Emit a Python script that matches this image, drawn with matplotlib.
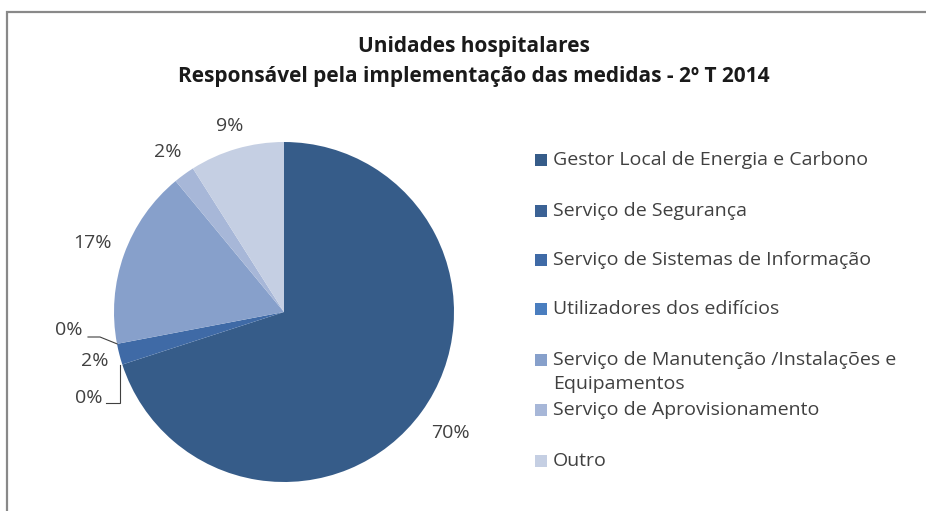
import numpy as np
import matplotlib
matplotlib.use("Agg")
import matplotlib.pyplot as plt
from matplotlib.patches import Rectangle

# ---- data ----
categories = [
    "Gestor Local de Energia e Carbono",
    "Serviço de Segurança",
    "Serviço de Sistemas de Informação",
    "Utilizadores dos edifícios",
    "Serviço de Manutenção /Instalações e\nEquipamentos",
    "Serviço de Aprovisionamento",
    "Outro",
]
values = [70, 0, 2, 0, 17, 2, 9]
colors = ["#365c89", "#3b6295", "#3f6aa6", "#4a7ebf", "#87a0cb", "#a7b7d8", "#c5cfe3"]
title_lines = ["Unidades hospitalares",
               "Responsável pela implementação das medidas - 2º T 2014"]

# ---- layout (pixels, image coordinates y-down) ----
W, H = 926, 511
CX, CY, R = 284, 312, 170
FONT = "Open Sans"
FS = 14
TXT = "#404040"

fig = plt.figure(figsize=(W / 100, H / 100), dpi=100)
ax = fig.add_axes([0, 0, 1, 1])

def Y(y):
    return H - y

wedges, _ = ax.pie(values, colors=colors, startangle=90, counterclock=False,
                   center=(CX, Y(CY)), radius=R,
                   wedgeprops=dict(linewidth=0))
ax.set_xlim(0, W)
ax.set_ylim(0, H)
ax.set_aspect("equal")
ax.axis("off")

# percentage labels
label_factor = [1.21, None, 1.15, None, 1.20, 1.16, 1.14]
for i, (w, v) in enumerate(zip(wedges, values)):
    mid = np.deg2rad((w.theta1 + w.theta2) / 2)
    txt = f"{v}%"
    if label_factor[i] is not None:
        f = label_factor[i]
        x = CX + R * f * np.cos(mid)
        y = Y(CY) + R * f * np.sin(mid)
        ax.text(x, y, txt, ha="center", va="center", fontsize=FS,
                family=FONT, color=TXT)
    else:
        ex = CX + R * np.cos(mid)
        ey = Y(CY) + R * np.sin(mid)
        if i == 1:  # lower zero label
            tx, ty = 89, 398
            pts = [(106, Y(403)), (ex - 2, Y(403)), (ex - 2, ey)]
        else:
            tx, ty = 69, 330
            pts = [(88, Y(337)), (100, Y(337)), (ex, ey)]
        ax.text(tx, Y(ty), txt, ha="center", va="center", fontsize=FS,
                family=FONT, color=TXT)
        xs, ys = zip(*pts)
        ax.plot(xs, ys, color="#404040", lw=0.8, solid_joinstyle="miter")

# title
for line, ty in zip(title_lines, [46, 76]):
    ax.text(474, Y(ty), line, ha="center", va="center", fontsize=15,
            fontweight="bold", family=FONT, color="#1a1a1a")

# legend (manual)
leg_y = [160, 211, 260, 309, 360, 410, 461]
for lab, col, y in zip(categories, colors, leg_y):
    ax.add_patch(Rectangle((535, Y(y) - 6), 12, 12, facecolor=col, edgecolor="none"))
    for k, part in enumerate(lab.split("\n")):
        ax.text(553, Y(y + 24 * k), part, ha="left", va="center",
                fontsize=FS, family=FONT, color=TXT)

# chart border (left and top edges only visible)
ax.plot([7, 7, W + 5], [-5, Y(12), Y(12)], color="#898989", lw=1.6,
        solid_joinstyle="miter")

fig.savefig("out.png", dpi=100)
